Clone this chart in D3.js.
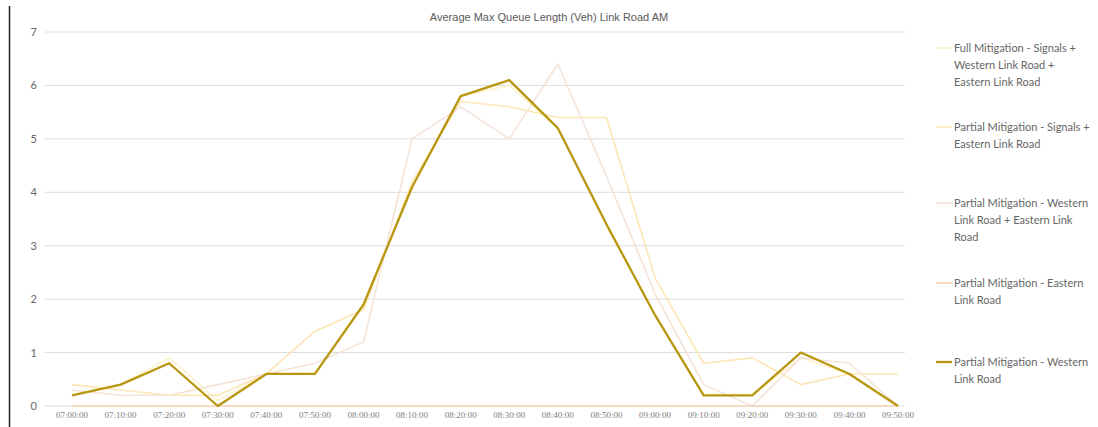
<!DOCTYPE html>
<html>
<head>
<meta charset="utf-8">
<script src="https://cdn.jsdelivr.net/npm/d3@7"></script>
<style>
  body { margin: 0; background: #fff; }
  svg { display: block; }
</style>
</head>
<body>
<svg width="1098" height="427"></svg>
<script>
const times = ["07:00:00", "07:10:00", "07:20:00", "07:30:00", "07:40:00", "07:50:00",
  "08:00:00", "08:10:00", "08:20:00", "08:30:00", "08:40:00", "08:50:00",
  "09:00:00", "09:10:00", "09:20:00", "09:30:00", "09:40:00", "09:50:00"];

const fullMitigation = [0.2, 0.4, 0.9, 0.1, 0.6, 0.6, 1.9, 4.1, 5.8, 6.0, 5.2, 3.4, 1.7, 0.2, 0.2, 0.9, 0.6, 0];
const partialSignalsEastern = [0.4, 0.3, 0.2, 0.2, 0.6, 1.4, 1.8, 4.2, 5.7, 5.6, 5.4, 5.4, 2.4, 0.8, 0.9, 0.4, 0.6, 0.6];
const partialWesternEastern = [0.3, 0.2, 0.2, 0.4, 0.6, 0.8, 1.2, 5.0, 5.6, 5.0, 6.4, 4.3, 2.1, 0.4, 0, 0.9, 0.8, 0];
const partialEastern = [0, 0, 0, 0, 0, 0, 0, 0, 0, 0, 0, 0, 0, 0, 0, 0, 0, 0];
const partialWestern = [0.2, 0.4, 0.8, 0, 0.6, 0.6, 1.9, 4.1, 5.8, 6.1, 5.2, 3.4, 1.7, 0.2, 0.2, 1.0, 0.6, 0];

const yTicks = [0, 1, 2, 3, 4, 5, 6, 7];

const seriesNames = [
  ["Full Mitigation - Signals +", "Western Link Road +", "Eastern Link Road"],
  ["Partial Mitigation - Signals +", "Eastern Link Road"],
  ["Partial Mitigation - Western", "Link Road + Eastern Link", "Road"],
  ["Partial Mitigation - Eastern", "Link Road"],
  ["Partial Mitigation - Western", "Link Road"]
];
const seriesColors = ["#fdf2cc", "#fde6b4", "#f5e3d8", "#f8d2b2", "#b8960f"];
const seriesWidths = [1.6, 1.6, 1.6, 1.6, 2.3];
const seriesValues = [fullMitigation, partialSignalsEastern, partialWesternEastern, partialEastern, partialWestern];
const legendY = [48, 127, 203, 283, 362];

const svg = d3.select("svg");

const x = d3.scalePoint().domain(times).range([72, 898]);
const y = d3.scaleLinear().domain([0, 7]).range([406, 32]);

// left border
svg.append("line")
  .attr("x1", 9.5).attr("x2", 9.5)
  .attr("y1", 6).attr("y2", 427)
  .attr("stroke", "#222").attr("stroke-width", 1.5);

// title
svg.append("text")
  .attr("x", 549).attr("y", 21)
  .attr("text-anchor", "middle")
  .attr("font-family", "Liberation Sans Narrow, Liberation Sans, sans-serif")
  .attr("font-size", 11)
  .attr("fill", "#595959")
  .text("Average Max Queue Length (Veh) Link Road AM");

// gridlines + y labels
svg.append("g")
  .attr("class", "grid")
  .selectAll("line")
  .data(yTicks)
  .enter().append("line")
  .attr("x1", 45).attr("x2", 905)
  .attr("y1", d => y(d)).attr("y2", d => y(d))
  .attr("stroke", "#dcdcdc").attr("stroke-width", 1);

svg.append("g")
  .selectAll("text")
  .data(yTicks)
  .enter().append("text")
  .attr("x", 37)
  .attr("y", d => y(d) + 4)
  .attr("text-anchor", "end")
  .attr("font-family", "Lato, sans-serif")
  .attr("font-size", 11)
  .attr("fill", "#666")
  .text(d => d);

// x labels
svg.append("g")
  .selectAll("text")
  .data(times)
  .enter().append("text")
  .attr("x", d => x(d))
  .attr("y", 418)
  .attr("text-anchor", "middle")
  .attr("font-family", "Liberation Serif, serif")
  .attr("font-size", 9)
  .attr("fill", "#808080")
  .text(d => d);

// lines
const line = d3.line()
  .x((d, i) => x(times[i]))
  .y(d => y(d));

svg.append("g")
  .attr("class", "lines")
  .selectAll("path")
  .data(seriesValues)
  .enter().append("path")
  .attr("d", d => line(d))
  .attr("fill", "none")
  .attr("stroke", (d, i) => seriesColors[i])
  .attr("stroke-width", (d, i) => seriesWidths[i])
  .attr("stroke-linejoin", "round");

// legend
const legend = svg.append("g")
  .attr("class", "legend")
  .selectAll("g")
  .data(seriesNames)
  .enter().append("g")
  .attr("transform", (d, i) => `translate(0,${legendY[i]})`);

legend.append("line")
  .attr("x1", 936).attr("x2", 952)
  .attr("y1", 0).attr("y2", 0)
  .attr("stroke", (d, i) => seriesColors[i])
  .attr("stroke-width", (d, i) => seriesWidths[i]);

legend.append("text")
  .attr("font-family", "Lato, sans-serif")
  .attr("font-size", 11)
  .attr("fill", "#666")
  .selectAll("tspan")
  .data(d => d)
  .enter().append("tspan")
  .attr("x", 954)
  .attr("y", (d, i) => 4 + i * 17)
  .text(d => d);
</script>
</body>
</html>
